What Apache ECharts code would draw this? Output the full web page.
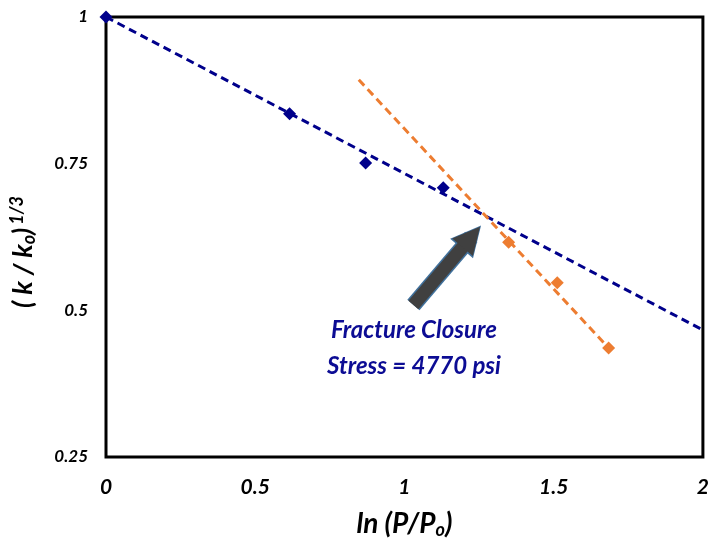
<!DOCTYPE html>
<html>
<head>
<meta charset="utf-8">
<script src="https://cdn.jsdelivr.net/npm/echarts@6/dist/echarts.min.js"></script>
<style>
  html, body { margin: 0; padding: 0; background: #fff; }
  #chart { width: 712px; height: 548px; }
</style>
</head>
<body>
<div id="chart"></div>
<script>
// measured points
const blueX = [0, 0.615, 0.87, 1.13]
const blueY = [1, 0.835, 0.751, 0.709]
const orangeX = [1.349, 1.512, 1.684]
const orangeY = [0.616, 0.547, 0.436]

// trend lines (end points)
const blueTrendX = [0, 2]
const blueTrendY = [1, 0.4665]
const orangeTrendX = [0.847, 1.684]
const orangeTrendY = [0.893, 0.436]

// annotation arrow (tail -> head) and label
const arrowX = [1.03, 1.224]
const arrowY = [0.509, 0.625]
const noteX = [1.032]
const noteY = [0.436]
const noteText = ['Fracture Closure', 'Stress = 4770 psi']

const xTicks = [0, 0.5, 1, 1.5, 2]
const yTicks = [0.25, 0.5, 0.75, 1]

const pairs = (xs, ys) => xs.map((x, i) => [x, ys[i]])

const FONT = 'Lato, "Open Sans", sans-serif'
const chart = echarts.init(document.getElementById('chart'))

chart.setOption({
  animation: false,
  grid: {
    left: 106, top: 17, right: 5, bottom: 91,
    show: true, borderColor: '#000', borderWidth: 3, backgroundColor: 'transparent'
  },
  xAxis: {
    type: 'value',
    min: xTicks[0], max: xTicks[xTicks.length - 1], interval: 0.5,
    axisLine: { show: false },
    axisTick: { show: false },
    splitLine: { show: false },
    axisLabel: {
      color: '#000', fontSize: 21, fontWeight: 'bold', fontStyle: 'italic',
      fontFamily: FONT, margin: 20
    },
    name: '{n|ln (P/P}{sub|o}{n|)}',
    nameLocation: 'middle',
    nameGap: 52,
    nameTextStyle: {
      rich: {
        n: { fontSize: 28, fontWeight: 'bold', fontStyle: 'italic', fontFamily: FONT, color: '#000' },
        sub: { fontSize: 18, fontWeight: 'bold', fontStyle: 'italic', fontFamily: FONT, color: '#000', padding: [12, 0, 0, 0] }
      }
    }
  },
  yAxis: {
    type: 'value',
    min: yTicks[0], max: yTicks[yTicks.length - 1], interval: 0.25,
    axisLine: { show: false },
    axisTick: { show: false },
    splitLine: { show: false },
    axisLabel: {
      color: '#000', fontSize: 17, fontWeight: 'bold', fontStyle: 'italic',
      fontFamily: FONT, margin: 18,
      formatter: v => String(v)
    },
    name: '{n|( k / k}{sub|o}{n|)}{sup|1/3}',
    nameLocation: 'middle',
    nameGap: 68,
    nameRotate: 90,
    nameTextStyle: {
      padding: [0, 30, 0, 0],
      rich: {
        n: { fontSize: 27, fontWeight: 'bold', fontStyle: 'italic', fontFamily: FONT, color: '#000' },
        sub: { fontSize: 18, fontWeight: 'bold', fontStyle: 'italic', fontFamily: FONT, color: '#000', padding: [12, 0, 0, 0] },
        sup: { fontSize: 18, fontWeight: 'bold', fontStyle: 'italic', fontFamily: FONT, color: '#000', padding: [0, 0, 12, 3] }
      }
    }
  },
  series: [
    {
      type: 'line',
      data: pairs(blueTrendX, blueTrendY),
      showSymbol: false,
      lineStyle: { color: '#00008B', width: 3, type: [8, 5] },
      z: 2
    },
    {
      type: 'line',
      data: pairs(orangeTrendX, orangeTrendY),
      showSymbol: false,
      lineStyle: { color: '#ED7D31', width: 3, type: [8, 5] },
      z: 2
    },
    {
      type: 'scatter',
      data: pairs(blueX, blueY),
      symbol: 'diamond',
      symbolSize: 13,
      itemStyle: { color: '#00008B', opacity: 1 },
      z: 3
    },
    {
      type: 'scatter',
      data: pairs(orangeX, orangeY),
      symbol: 'diamond',
      symbolSize: 13,
      itemStyle: { color: '#ED7D31', opacity: 1 },
      z: 3
    },
    {
      // outline of the arrow
      type: 'lines',
      coordinateSystem: 'cartesian2d',
      data: [{ coords: pairs(arrowX, arrowY) }],
      symbol: ['none', 'triangle'],
      symbolSize: [0, 30],
      lineStyle: { color: '#41719C', width: 16, opacity: 1, cap: 'butt' },
      z: 4
    },
    {
      type: 'lines',
      coordinateSystem: 'cartesian2d',
      data: [{ coords: pairs(arrowX, arrowY) }],
      symbol: ['none', 'triangle'],
      symbolSize: [0, 27],
      lineStyle: { color: '#404040', width: 13, opacity: 1, cap: 'butt' },
      z: 5
    },
    {
      type: 'scatter',
      data: pairs(noteX, noteY),
      symbolSize: 0,
      itemStyle: { opacity: 1 },
      label: {
        show: true,
        position: 'inside',
        formatter: noteText.join('\n'),
        color: '#0C0C94',
        fontSize: 24,
        fontWeight: 'bold',
        fontStyle: 'italic',
        fontFamily: FONT,
        lineHeight: 36,
        align: 'center'
      },
      z: 6
    }
  ]
})
</script>
</body>
</html>
